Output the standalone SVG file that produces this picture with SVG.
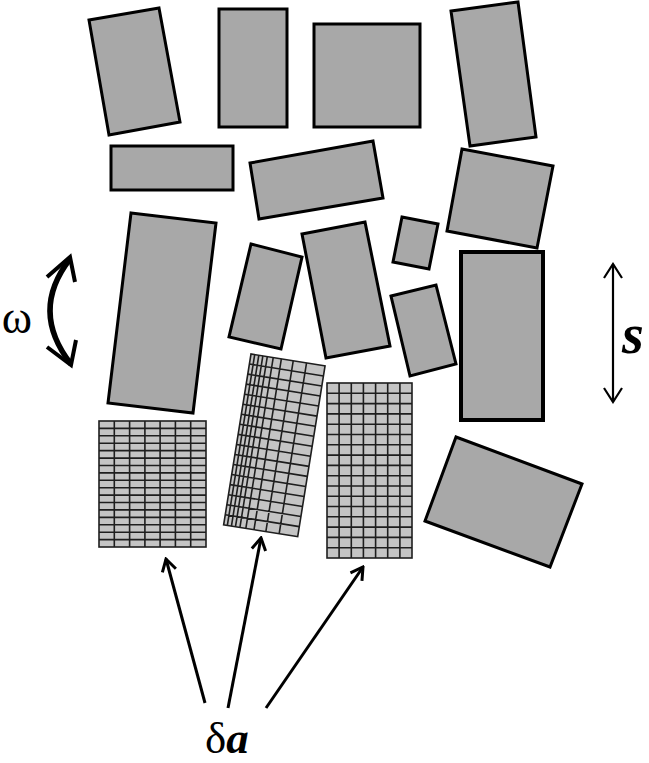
<svg xmlns="http://www.w3.org/2000/svg" width="649" height="763" viewBox="0 0 649 763">
<style>
.blk{fill:#a8a8a8;stroke:#000;stroke-width:3;stroke-linejoin:miter}
.grid{fill:#c4c4c4;stroke:#1e1e1e;stroke-width:1.6}
.gl{fill:none;stroke:#1e1e1e;stroke-width:1.6}
.arr{fill:none;stroke:#000;stroke-width:3}
.head{fill:none;stroke:#000;stroke-width:3;stroke-linejoin:miter}
.lbl{font-family:"Liberation Serif","Times New Roman",serif;fill:#000}
</style>
<defs>
<marker id="ah" viewBox="-16 -10 18 20" markerWidth="18" markerHeight="20" refX="0" refY="0" markerUnits="userSpaceOnUse" orient="auto">
<path d="M-12,-7 L0,0 L-12,7" fill="none" stroke="#000" stroke-width="3"/>
</marker>
<marker id="sh" viewBox="-18 -11 20 22" markerWidth="20" markerHeight="22" refX="0" refY="0" markerUnits="userSpaceOnUse" orient="auto-start-reverse">
<path d="M-14,-9 L0,0 L-14,9" fill="none" stroke="#000" stroke-width="2.2"/>
</marker>
</defs>
<rect width="649" height="763" fill="#fff"/>

<g id="blockA"><polygon class="blk" points="89,20 159,8 180,122 109,135"/></g>
<g id="blockB"><rect class="blk" x="219" y="9" width="68" height="118"/></g>
<g id="blockC"><rect class="blk" x="314" y="24" width="106" height="103"/></g>
<g id="blockD"><polygon class="blk" points="451,11 518,2 536,137 470,146"/></g>
<g id="blockE"><rect class="blk" x="111" y="146" width="122" height="44"/></g>
<g id="blockF"><polygon class="blk" points="250,163 373,141 383,198 259,219"/></g>
<g id="blockG"><polygon class="blk" points="462,149 553,166 537,248 447,231"/></g>
<g id="blockH"><polygon class="blk" points="131,213 216,223 193,413 108,403"/></g>
<g id="blockI"><polygon class="blk" points="251,244 302,257 281,349 229,337"/></g>
<g id="blockJ"><polygon class="blk" points="302,234 365,222 390,346 326,358"/></g>
<g id="blockK"><polygon class="blk" points="402,217 438,224 429,269 393,262"/></g>
<g id="blockL"><polygon class="blk" points="391,296 436,285 456,364 410,376"/></g>
<g id="blockM"><rect class="blk" x="461" y="252" width="82" height="168" style="stroke-width:4"/></g>
<g id="blockN"><polygon class="blk" points="456,437 582,484 550,567 425,521"/></g>

<g id="grid1">
<rect class="grid" x="99" y="421" width="107" height="126"/>
<path class="gl" d="M114.3,421V547M129.6,421V547M144.9,421V547M160.1,421V547M175.4,421V547M190.7,421V547
M99,428.4H206M99,435.8H206M99,443.2H206M99,450.6H206M99,458.1H206M99,465.5H206M99,472.9H206M99,480.3H206M99,487.7H206M99,495.1H206M99,502.5H206M99,509.9H206M99,517.4H206M99,524.8H206M99,532.2H206M99,539.6H206"/>
</g>

<g id="grid2" transform="translate(251,354) rotate(9.1)">
<rect class="grid" x="0" y="0" width="75" height="173"/>
<path class="gl" d="M3.75,0V173M7.9,0V173M12,0V173M16.5,0V173M22.5,0V173M30.75,0V173M42.75,0V173M56.25,0V173
M0,10.2H75M0,20.4H75M0,30.5H75M0,40.7H75M0,50.9H75M0,61.1H75M0,71.2H75M0,81.4H75M0,91.6H75M0,101.8H75M0,111.9H75M0,122.1H75M0,132.3H75M0,142.5H75M0,152.6H75M0,162.8H75"/>
</g>

<g id="grid3">
<rect class="grid" x="327" y="383" width="85" height="175"/>
<path class="gl" d="M339.1,383V558M351.3,383V558M363.4,383V558M375.6,383V558M387.7,383V558M399.9,383V558
M327,393.3H412M327,403.6H412M327,413.9H412M327,424.2H412M327,434.5H412M327,444.8H412M327,455.1H412M327,465.4H412M327,475.7H412M327,486H412M327,496.2H412M327,506.5H412M327,516.8H412M327,527.1H412M327,537.4H412M327,547.7H412"/>
</g>

<g id="connectors">
<line class="arr" x1="205" y1="703" x2="166" y2="559" marker-end="url(#ah)"/>
<line class="arr" x1="228" y1="708" x2="261" y2="538" marker-end="url(#ah)"/>
<line class="arr" x1="266" y1="708" x2="363" y2="567" marker-end="url(#ah)"/>
<line x1="613" y1="264" x2="613" y2="402" stroke="#000" stroke-width="2.2" marker-start="url(#sh)" marker-end="url(#sh)"/>
<path d="M70,259 Q29.5,311 71,364" fill="none" stroke="#000" stroke-width="5.5"/>
<path class="head" d="M47,277 L70,257 L75,282" style="stroke-width:4"/>
<path class="head" d="M47,347 L71,365 L76,340" style="stroke-width:4"/>
</g>

<g id="labels">
<text class="lbl" x="17" y="333" font-size="46" text-anchor="middle">ω</text>
<text class="lbl" x="622" y="353" font-size="56" font-weight="bold" font-style="italic">s</text>
<text class="lbl" x="205" y="753" font-size="45">δ<tspan font-weight="bold" font-style="italic">a</tspan></text>
</g>
</svg>
